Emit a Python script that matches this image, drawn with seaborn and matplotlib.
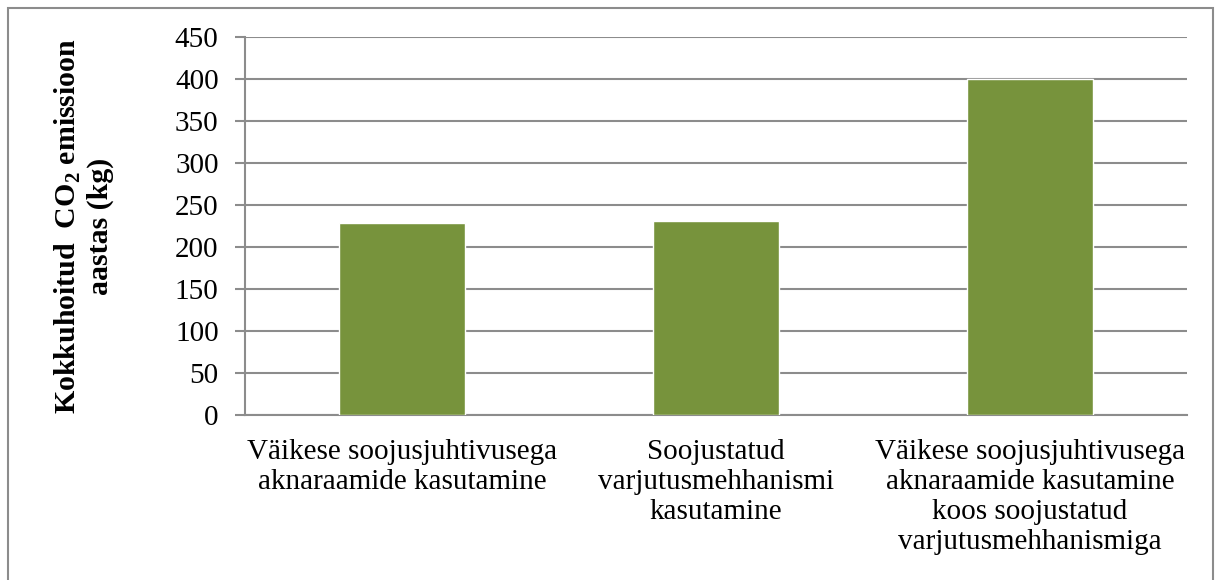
import matplotlib
matplotlib.use("Agg")
import matplotlib.pyplot as plt
import seaborn as sns
import pandas as pd
from matplotlib.patches import Rectangle

categories = [
    "Väikese soojusjuhtivusega\naknaraamide kasutamine",
    "Soojustatud\nvarjutusmehhanismi\nkasutamine",
    "Väikese soojusjuhtivusega\naknaraamide kasutamine\nkoos soojustatud\nvarjutusmehhanismiga",
]
emissions = [228, 231.5, 400]
y_ticks = [0, 50, 100, 150, 200, 250, 300, 350, 400, 450]

sns.set_theme(style="white")
plt.rcParams["font.family"] = ["Liberation Serif", "DejaVu Serif"]
plt.rcParams["mathtext.fontset"] = "custom"
plt.rcParams["mathtext.rm"] = "Liberation Serif"
plt.rcParams["mathtext.bf"] = "Liberation Serif:bold"

df = pd.DataFrame({"kategooria": categories, "emissioon": emissions})

fig = plt.figure(figsize=(12.16, 5.8), dpi=100)
ax = fig.add_axes([245 / 1216, 1 - 415 / 580, (1187 - 245) / 1216, (415 - 37) / 580])

grid_color = "#8c8c8c"
sns.barplot(data=df, x="kategooria", y="emissioon", color="#77933C",
            saturation=1, width=0.4, ax=ax, zorder=3)

ax.set_xlim(-0.5, 2.5)
ax.set_ylim(0, 450)
ax.set_yticks(y_ticks)
ax.set_yticklabels([str(v) for v in y_ticks], fontsize=21, color="black")
ax.yaxis.grid(True, color=grid_color, linewidth=1.5, zorder=0)
ax.set_axisbelow(True)

# category labels centred in their slots, ticks on the slot borders
ax.set_xticks([0, 1, 2])
ax.set_xticklabels(categories, fontsize=21, color="black", linespacing=1.2)
ax.tick_params(axis="x", which="major", length=0, pad=17)
ax.set_xticks([-0.5, 0.5, 1.5, 2.5], minor=True)
ax.tick_params(axis="x", which="minor", length=7, width=1.5, color=grid_color, direction="out")
ax.tick_params(axis="y", which="major", length=7, width=1.5, color=grid_color,
               direction="out", pad=12, left=True)

for side in ["top", "right"]:
    ax.spines[side].set_visible(False)
for side in ["left", "bottom"]:
    ax.spines[side].set_visible(True)
    ax.spines[side].set_color(grid_color)
    ax.spines[side].set_linewidth(1.5)

ax.set_xlabel("")
ax.set_ylabel("Kokkuhoitud  CO$_\\mathbf{2}$ emissioon\naastas (kg)",
              fontsize=21.5, fontweight="bold", color="black", linespacing=1.15, labelpad=44)

# outer chart frame
fig.patches.append(Rectangle((8 / 1216, -0.05), (1213 - 8) / 1216, 1.05 - 8 / 580,
                             transform=fig.transFigure, fill=False,
                             edgecolor="#8c8c8c", linewidth=1.5))

fig.savefig("out.png", dpi=100)
